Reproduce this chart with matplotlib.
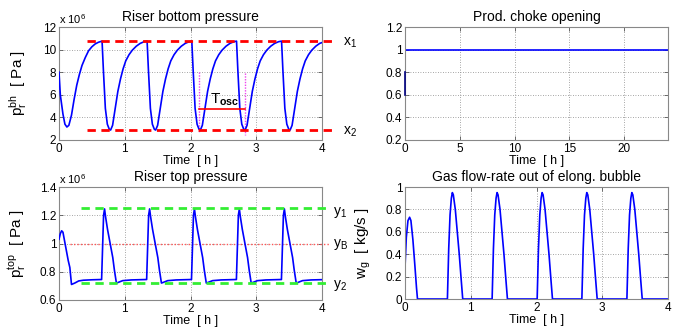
import matplotlib
matplotlib.use("Agg")
import matplotlib.pyplot as plt

plt.rcParams['font.family'] = ['Liberation Sans', 'DejaVu Sans']
plt.rcParams['mathtext.fontset'] = 'custom'
plt.rcParams['mathtext.rm'] = 'Liberation Sans'
plt.rcParams['mathtext.it'] = 'Liberation Sans'
plt.rcParams['mathtext.bf'] = 'Liberation Sans:bold'

# ---------------- data ----------------
# Riser bottom pressure [x 1e6 Pa]
t_bh = [0.00, 0.02, 0.06, 0.09, 0.12, 0.15, 0.19, 0.23, 0.27, 0.31, 0.35, 0.40, 0.45, 0.50, 0.55, 0.60, 0.655,
        0.675, 0.705, 0.735, 0.765, 0.785, 0.815, 0.855, 0.895, 0.935, 0.975, 1.015, 1.065, 1.115, 1.175, 1.235, 1.295, 1.34,
        1.36, 1.39, 1.42, 1.45, 1.47, 1.50, 1.54, 1.58, 1.62, 1.66, 1.70, 1.75, 1.80, 1.86, 1.92, 1.98, 2.02,
        2.04, 2.07, 2.10, 2.13, 2.15, 2.18, 2.22, 2.26, 2.30, 2.34, 2.38, 2.43, 2.48, 2.54, 2.60, 2.66, 2.70,
        2.72, 2.75, 2.78, 2.81, 2.83, 2.86, 2.90, 2.94, 2.98, 3.02, 3.06, 3.11, 3.16, 3.22, 3.28, 3.34, 3.385,
        3.405, 3.435, 3.465, 3.495, 3.515, 3.545, 3.585, 3.625, 3.665, 3.705, 3.745, 3.795, 3.845, 3.905, 3.965, 4.00]
p_bh = [8.0, 6.0, 4.3, 3.4, 3.15, 3.3, 4.2, 5.6, 6.85, 7.8, 8.6, 9.3, 9.9, 10.25, 10.5, 10.65, 10.75,
        8.2, 4.8, 3.4, 2.95, 2.88, 3.3, 4.8, 6.3, 7.4, 8.3, 9.0, 9.55, 9.95, 10.3, 10.55, 10.7, 10.75,
        8.2, 4.8, 3.4, 2.95, 2.88, 3.3, 4.8, 6.3, 7.4, 8.3, 9.0, 9.55, 9.95, 10.3, 10.55, 10.7, 10.75,
        8.2, 4.8, 3.4, 2.95, 2.88, 3.3, 4.8, 6.3, 7.4, 8.3, 9.0, 9.55, 9.95, 10.3, 10.55, 10.7, 10.75,
        8.2, 4.8, 3.4, 2.95, 2.88, 3.3, 4.8, 6.3, 7.4, 8.3, 9.0, 9.55, 9.95, 10.3, 10.55, 10.7, 10.75,
        8.2, 4.8, 3.4, 2.95, 2.88, 3.3, 4.8, 6.3, 7.4, 8.3, 9.0, 9.55, 9.95, 10.3, 10.55, 10.62]
x1_level = 10.75
x2_level = 2.9
x_lines_t = [0.42, 4.2]
tosc_t = [2.135, 2.83]
tosc_level = 4.77

# Production choke opening
t_choke = [0, 24]
u_choke = [1.0, 1.0]
u_choke_init = [0.6, 0.8]

# Riser top pressure [x 1e6 Pa]
t_top = [0.00, 0.02, 0.04, 0.06, 0.10, 0.14, 0.165, 0.19, 0.24, 0.30, 0.37, 0.50, 0.648,
         0.678, 0.693, 0.708, 0.738, 0.778, 0.818, 0.843, 0.873, 0.903, 0.968, 1.098, 1.333,
         1.363, 1.378, 1.393, 1.423, 1.463, 1.503, 1.528, 1.558, 1.588, 1.653, 1.783, 2.015,
         2.045, 2.060, 2.075, 2.105, 2.145, 2.185, 2.210, 2.240, 2.270, 2.335, 2.465, 2.698,
         2.728, 2.743, 2.758, 2.788, 2.828, 2.868, 2.893, 2.923, 2.953, 3.018, 3.148, 3.383,
         3.413, 3.428, 3.443, 3.473, 3.513, 3.553, 3.578, 3.608, 3.638, 3.703, 3.833, 4.00]
p_top = [1.03, 1.07, 1.09, 1.08, 0.98, 0.88, 0.83, 0.71, 0.72, 0.735, 0.74, 0.743, 0.745,
         1.20, 1.245, 1.19, 1.10, 1.00, 0.90, 0.81, 0.72, 0.725, 0.737, 0.742, 0.745,
         1.20, 1.245, 1.19, 1.10, 1.00, 0.90, 0.81, 0.72, 0.725, 0.737, 0.742, 0.745,
         1.20, 1.245, 1.19, 1.10, 1.00, 0.90, 0.81, 0.72, 0.725, 0.737, 0.742, 0.745,
         1.20, 1.245, 1.19, 1.10, 1.00, 0.90, 0.81, 0.72, 0.725, 0.737, 0.742, 0.745,
         1.20, 1.245, 1.19, 1.10, 1.00, 0.90, 0.81, 0.72, 0.725, 0.737, 0.742, 0.744]
y1_level = 1.25
y2_level = 0.72
yB_level = 1.0
y_lines_t = [0.33, 4.12]
yB_line_t = [0.17, 4.12]

# Gas flow-rate out of elongated bubble [kg/s]
t_wg = [0.00, 0.02, 0.045, 0.07, 0.09, 0.12, 0.15, 0.175, 0.19, 0.645,
        0.665, 0.685, 0.705, 0.72, 0.735, 0.765, 0.795, 0.825, 0.855, 0.878, 1.325,
        1.345, 1.365, 1.385, 1.40, 1.415, 1.445, 1.475, 1.505, 1.535, 1.558, 2.010,
        2.030, 2.050, 2.070, 2.085, 2.100, 2.130, 2.160, 2.190, 2.220, 2.243, 2.690,
        2.710, 2.730, 2.750, 2.765, 2.780, 2.810, 2.840, 2.870, 2.900, 2.923, 3.375,
        3.395, 3.415, 3.435, 3.450, 3.465, 3.495, 3.525, 3.555, 3.585, 3.608, 4.00]
w_g = [0.28, 0.55, 0.70, 0.73, 0.70, 0.53, 0.30, 0.10, 0.0, 0.0,
       0.45, 0.75, 0.90, 0.95, 0.93, 0.80, 0.60, 0.40, 0.17, 0.0, 0.0,
       0.45, 0.75, 0.90, 0.95, 0.93, 0.80, 0.60, 0.40, 0.17, 0.0, 0.0,
       0.45, 0.75, 0.90, 0.95, 0.93, 0.80, 0.60, 0.40, 0.17, 0.0, 0.0,
       0.45, 0.75, 0.90, 0.95, 0.93, 0.80, 0.60, 0.40, 0.17, 0.0, 0.0,
       0.45, 0.75, 0.90, 0.95, 0.93, 0.80, 0.60, 0.40, 0.17, 0.0, 0.0]

# ---------------- figure ----------------
W, H = 686, 328
fig = plt.figure(figsize=(W / 100, H / 100), dpi=100)

def rect(l, t, r, b):
    return [l / W, 1 - b / H, (r - l) / W, (b - t) / H]

BLUE = '#0000ff'
RED = '#ff0000'
GREEN = '#33ee33'
TICK_FS = 8.5
LAB_FS = 10.5
TITLE_FS = 10

def style(ax, xlim, ylim, xticks, yticks, yticklabels=None):
    ax.set_xlim(*xlim)
    ax.set_ylim(*ylim)
    ax.set_xticks(xticks)
    ax.set_yticks(yticks)
    if yticklabels is not None:
        ax.set_yticklabels(yticklabels)
    ax.tick_params(direction='in', length=3, width=0.6, labelsize=TICK_FS,
                   top=True, right=True, pad=2, color='#555555')
    ax.grid(True, linestyle=(0, (1, 2)), color='#888888', linewidth=0.6)
    for s in ax.spines.values():
        s.set_color('#888888')
        s.set_linewidth(0.8)
    ax.set_xlabel('Time  [ h ]', fontsize=9, labelpad=0)

# Top-left
ax1 = fig.add_axes(rect(59, 27, 322, 140))
ax1.plot(t_bh, p_bh, color=BLUE, lw=1.2, zorder=3)
ax1.plot(x_lines_t, [x1_level] * 2, color=RED, lw=2.0, ls=(0, (3, 2)), clip_on=False, zorder=4)
ax1.plot(x_lines_t, [x2_level] * 2, color=RED, lw=2.0, ls=(0, (3, 2)), clip_on=False, zorder=4)
ax1.plot([tosc_t[0]] * 2, [8.0, 2.7], color='#ee44ee', lw=1.0, ls=(0, (1, 1)), zorder=2)
ax1.plot([tosc_t[1]] * 2, [7.9, 2.4], color='#ee44ee', lw=1.0, ls=(0, (1, 1)), zorder=2)
ax1.plot(tosc_t, [tosc_level] * 2, color=RED, lw=1.2, zorder=4)
ax1.text(2.3, 5.55, r'$\mathrm{T}_\mathbf{osc}$', fontsize=11, ha='left', va='center')
style(ax1, (0, 4), (2, 12), [0, 1, 2, 3, 4], [2, 4, 6, 8, 10, 12])
ax1.set_title('Riser bottom pressure', fontsize=TITLE_FS, pad=4)
ax1.set_ylabel(r'$\mathrm{p}_\mathrm{r}^\mathrm{bh}$  [ Pa ]', fontsize=LAB_FS + 0.5)
ax1.yaxis.set_label_coords(-0.115, 0.5)
ax1.text(0.0, 1.01, r'x 10$^\mathrm{6}$', transform=ax1.transAxes, fontsize=8, ha='left', va='bottom')
ax1.text(4.32, 10.6, r'$\mathrm{x}_\mathrm{1}$', fontsize=10, ha='left', va='center', clip_on=False)
ax1.text(4.32, 2.75, r'$\mathrm{x}_\mathrm{2}$', fontsize=10, ha='left', va='center', clip_on=False)

# Top-right
ax2 = fig.add_axes(rect(405, 27, 668, 140))
ax2.plot(t_choke, u_choke, color=BLUE, lw=1.2)
ax2.plot([0, 0], u_choke_init, color='#000080', lw=1.2, clip_on=False, zorder=5)
style(ax2, (0, 24), (0.2, 1.2), [0, 5, 10, 15, 20], [0.2, 0.4, 0.6, 0.8, 1.0, 1.2],
      ['0.2', '0.4', '0.6', '0.8', '1', '1.2'])
ax2.set_title('Prod. choke opening', fontsize=TITLE_FS, pad=4)

# Bottom-left
ax3 = fig.add_axes(rect(59, 187, 322, 300))
ax3.plot(t_top, p_top, color=BLUE, lw=1.2, zorder=3)
ax3.plot(y_lines_t, [y1_level] * 2, color=GREEN, lw=2.0, ls=(0, (3, 2)), clip_on=False, zorder=4)
ax3.plot(y_lines_t, [y2_level] * 2, color=GREEN, lw=2.0, ls=(0, (3, 2)), clip_on=False, zorder=4)
ax3.plot(yB_line_t, [yB_level] * 2, color='#ff5555', lw=1.0, ls=(0, (1, 1.5)), clip_on=False, zorder=2)
style(ax3, (0, 4), (0.6, 1.4), [0, 1, 2, 3, 4], [0.6, 0.8, 1.0, 1.2, 1.4],
      ['0.6', '0.8', '1', '1.2', '1.4'])
ax3.set_title('Riser top pressure', fontsize=TITLE_FS, pad=4)
ax3.set_ylabel(r'$\mathrm{p}_\mathrm{r}^\mathrm{top}$  [ Pa ]', fontsize=LAB_FS + 0.5)
ax3.yaxis.set_label_coords(-0.115, 0.5)
ax3.text(0.0, 1.01, r'x 10$^\mathrm{6}$', transform=ax3.transAxes, fontsize=8, ha='left', va='bottom')
ax3.text(4.17, 1.22, r'$\mathrm{y}_\mathrm{1}$', fontsize=10, ha='left', va='center', clip_on=False)
ax3.text(4.17, 0.995, r'$\mathrm{y}_\mathrm{B}$', fontsize=10, ha='left', va='center', clip_on=False)
ax3.text(4.17, 0.705, r'$\mathrm{y}_\mathrm{2}$', fontsize=10, ha='left', va='center', clip_on=False)

# Bottom-right
ax4 = fig.add_axes(rect(405, 187, 668, 299))
ax4.plot(t_wg, w_g, color=BLUE, lw=1.2)
style(ax4, (0, 4), (0, 1), [0, 1, 2, 3, 4], [0, 0.2, 0.4, 0.6, 0.8, 1.0],
      ['0', '0.2', '0.4', '0.6', '0.8', '1'])
ax4.set_title('Gas flow-rate out of elong. bubble', fontsize=TITLE_FS, pad=4)
ax4.set_ylabel(r'$\mathrm{w}_\mathrm{g}$  [ kg/s ]', fontsize=LAB_FS + 0.5)
ax4.yaxis.set_label_coords(-0.12, 0.5)

fig.savefig('out.png', dpi=100)
